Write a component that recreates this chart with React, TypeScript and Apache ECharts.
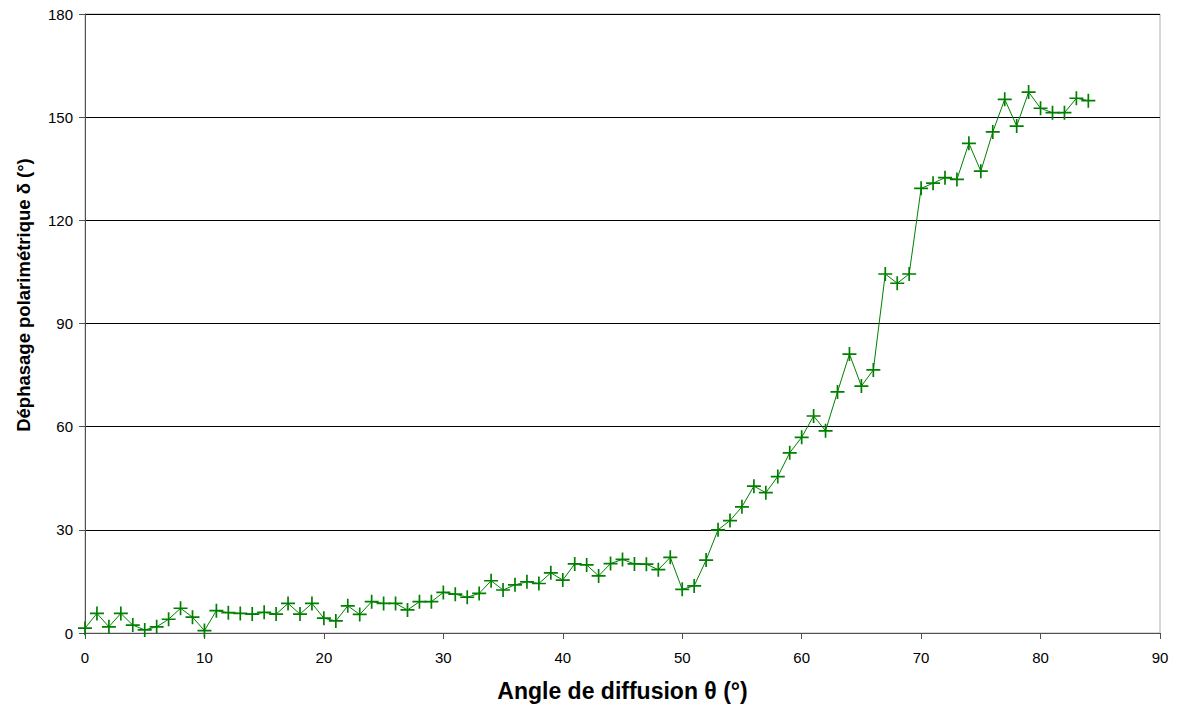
import React, { useEffect, useRef } from "react";
import * as echarts from "echarts";

const angles: number[] = Array.from({ length: 85 }, (_, i) => i);
const phase: number[] = [
  1.4, 5.7, 1.8, 5.7, 2.3, 0.9, 1.8, 4.0, 7.2, 4.6,
  0.7, 6.5, 5.9, 5.7, 5.5, 6.0, 5.5, 8.6, 5.5, 8.6,
  4.3, 3.5, 7.9, 5.4, 9.1, 8.6, 8.6, 6.7, 9.1, 9.1,
  11.8, 11.3, 10.4, 11.5, 15.2, 12.5, 14.0, 14.9, 14.4, 17.5,
  15.4, 20.1, 19.8, 16.6, 20.2, 21.4, 20.1, 20.0, 18.4, 22.0,
  12.7, 13.7, 21.2, 30.0, 32.7, 36.7, 42.7, 40.8, 45.5, 52.4,
  56.9, 63.1, 58.8, 70.1, 81.1, 71.8, 76.5, 104.4, 101.7, 104.4,
  129.3, 130.8, 132.4, 131.9, 142.4, 134.3, 145.7, 155.2, 147.4, 157.3,
  152.6, 151.3, 151.3, 155.5, 154.8,
];
const xTitle = "Angle de diffusion θ (°)";
const yTitle = "Déphasage polarimétrique δ (°)";

export default function App() {
  const ref = useRef<HTMLDivElement>(null);
  useEffect(() => {
    if (!ref.current) return;
    const chart = echarts.init(ref.current, null, { renderer: "svg" });
    const font = "'Liberation Sans', Arial, sans-serif";
    chart.setOption({
      animation: false,
      backgroundColor: "#ffffff",
      grid: {
        left: 85,
        top: 14,
        width: 1075,
        height: 619,
        show: true,
        borderColor: "#b0b0b0",
        borderWidth: 1,
        containLabel: false,
        outerBoundsMode: "none",
      },
      graphic: [
        {
          type: "text",
          x: 23,
          y: 295,
          rotation: Math.PI / 2,
          style: {
            text: yTitle,
            fontFamily: font,
            fontSize: 18.5,
            fontWeight: "bold",
            fill: "#000",
            textAlign: "center",
            textVerticalAlign: "middle",
          },
        },
      ],
      xAxis: {
        type: "value",
        min: 0,
        max: 90,
        interval: 10,
        name: xTitle,
        nameLocation: "middle",
        nameGap: 46,
        nameTextStyle: { fontFamily: font, fontSize: 23, fontWeight: "bold", color: "#000" },
        axisLine: { show: true, lineStyle: { color: "#505050", width: 1 } },
        axisTick: { show: true, length: 6, lineStyle: { color: "#505050" } },
        axisLabel: { fontFamily: font, fontSize: 15, color: "#000", margin: 17 },
        splitLine: { show: false },
      },
      yAxis: {
        type: "value",
        min: 0,
        max: 180,
        interval: 30,
        axisLine: { show: true, lineStyle: { color: "#505050", width: 1 } },
        axisTick: { show: true, length: 6, lineStyle: { color: "#505050" } },
        axisLabel: { fontFamily: font, fontSize: 15, color: "#000", margin: 12 },
        splitLine: { show: true, lineStyle: { color: "#000", width: 1 } },
      },
      series: [
        {
          type: "line",
          data: angles.map((a, i) => [a, phase[i]]),
          symbol: "path://M0,-1L0,1M-1,0L1,0",
          symbolSize: 14,
          showSymbol: true,
          lineStyle: { color: "#008000", width: 1 },
          itemStyle: { color: "none", borderColor: "#008000", borderWidth: 1.7 },
        },
      ],
    });
    return () => chart.dispose();
  }, []);
  return (
    <div
      ref={ref}
      style={{ position: "absolute", left: 0, top: 0, width: 1180, height: 711 }}
    />
  );
}
